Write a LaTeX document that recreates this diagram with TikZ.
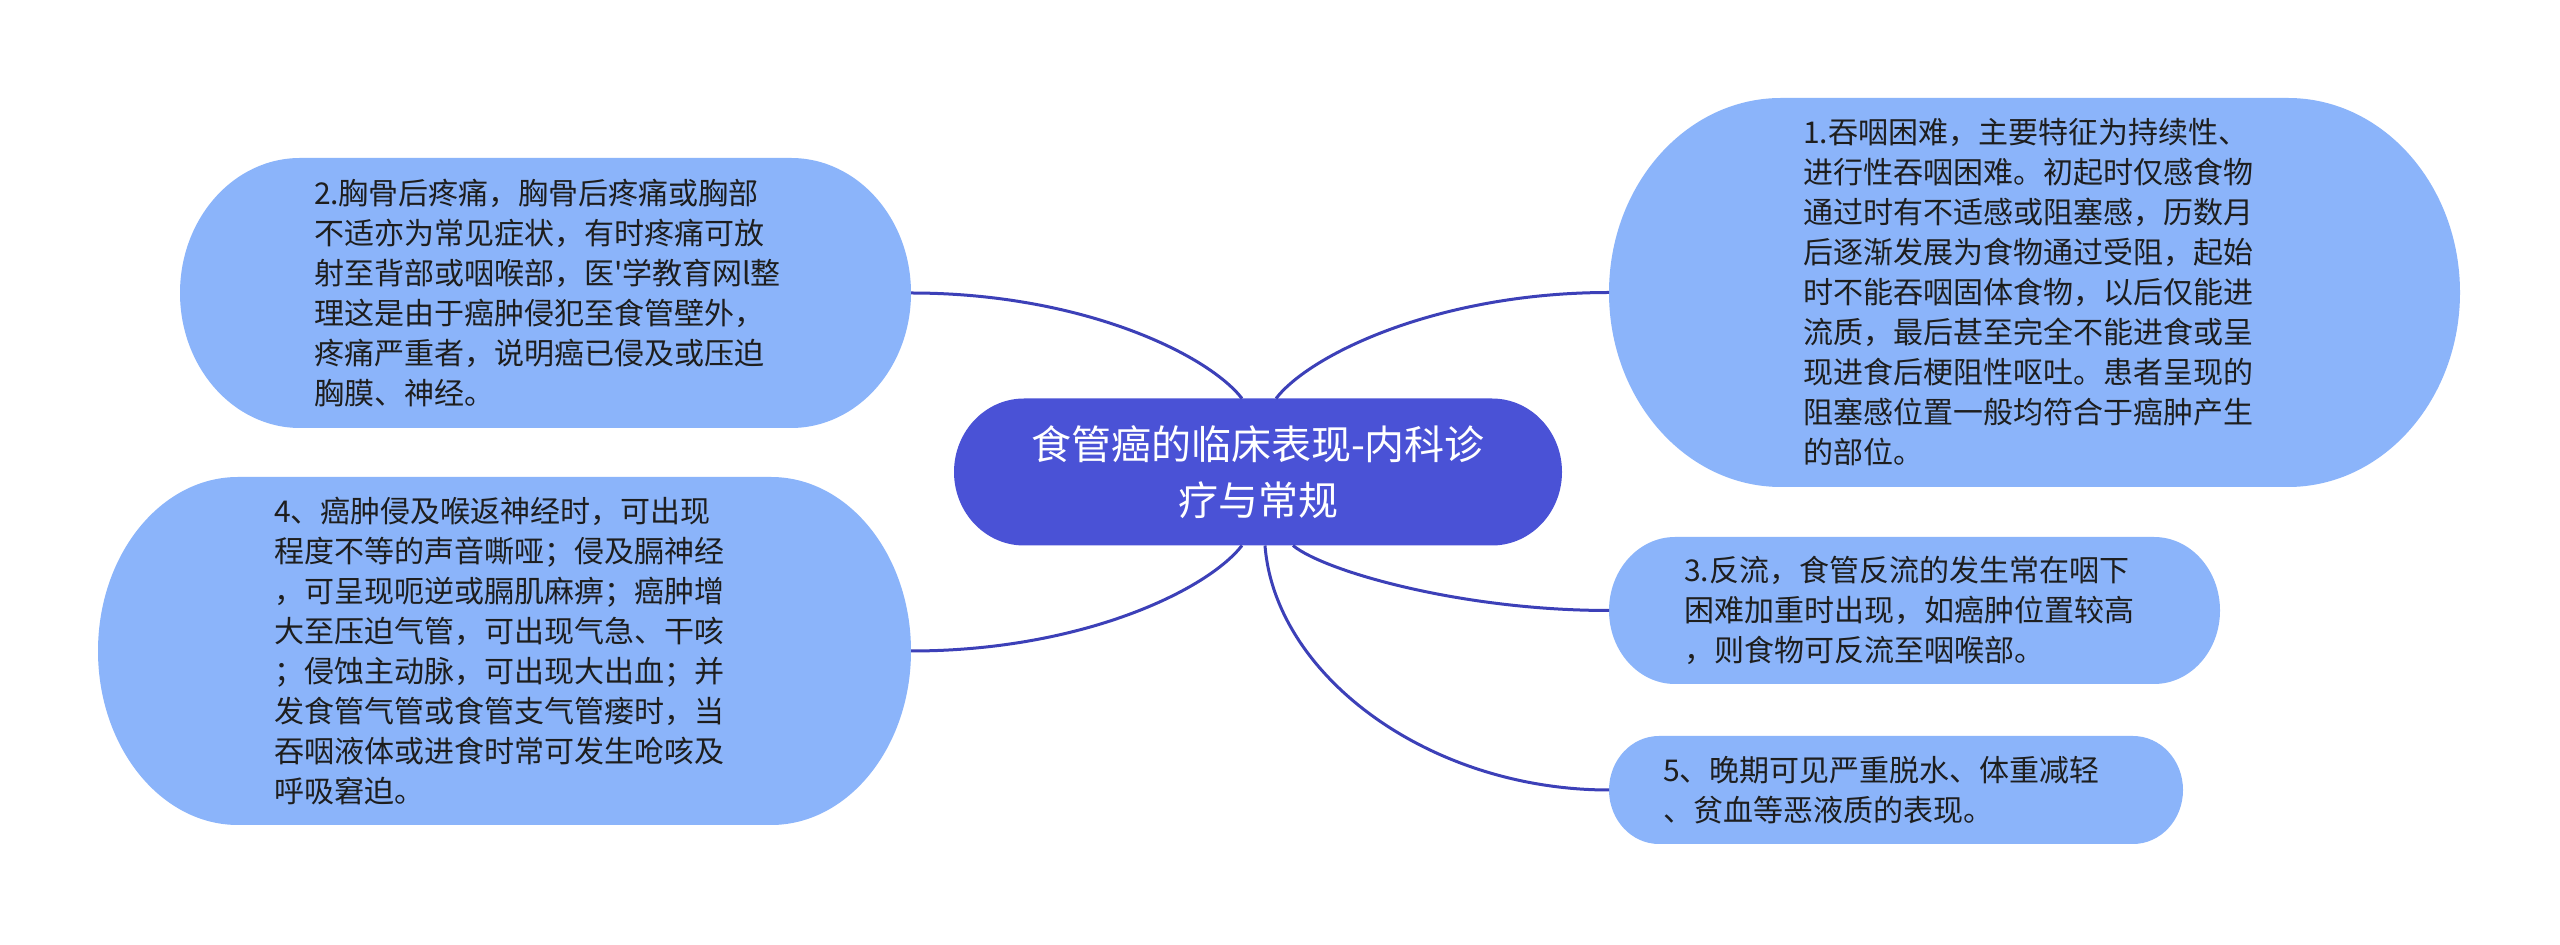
\documentclass[tikz,border=0pt]{standalone}
\usepackage{fontspec}
\newfontfamily\cjk{Noto Sans CJK SC}
\usetikzlibrary{backgrounds}
\definecolor{bubfill}{HTML}{8BB4FA}
\definecolor{mainfill}{HTML}{4A52D6}
\definecolor{linkc}{HTML}{3C40B8}
\definecolor{txtc}{HTML}{1E1E1E}
\newcommand\bubbleshape[4]{%
  \fill[#4] ([xshift=#2]#1.north west) -- ([xshift=-#2]#1.north east)
    arc[start angle=90,end angle=0,x radius=#2,y radius=#3]
    -- ([yshift=#3]#1.south east)
    arc[start angle=0,end angle=-90,x radius=#2,y radius=#3]
    -- ([xshift=#2]#1.south west)
    arc[start angle=-90,end angle=-180,x radius=#2,y radius=#3]
    -- ([yshift=-#3]#1.north west)
    arc[start angle=180,end angle=90,x radius=#2,y radius=#3] -- cycle;}
\tikzset{
  subnode/.style={shape=rectangle, inner ysep=0pt, outer sep=0pt, align=left,
    text=txtc, font=\cjk\fontsize{15pt}{20pt}\selectfont},
  mainnode/.style={shape=rectangle, inner sep=0pt, outer sep=0pt, align=center,
    text=white, font=\cjk\fontsize{20pt}{28pt}\selectfont,
    minimum width=304pt, minimum height=73.5pt},
  link/.style={draw=linkc, line width=1.5pt}
}
\begin{document}
\begin{tikzpicture}[x=0.5pt,y=-0.5pt]
\useasboundingbox (0,0) rectangle (2560,945);

\node[mainnode] (c) at (1258,472) {食管癌的临床表现-内科诊\\疗与常规};

\node[subnode, inner xsep=67pt, text width=231.5pt, minimum height=135pt] (n2) at (545.5,293)
 {2.胸骨后疼痛，胸骨后疼痛或胸部\\不适亦为常见症状，有时疼痛可放\\射至背部或咽喉部，医'学教育网l整\\理这是由于癌肿侵犯至食管壁外，\\疼痛严重者，说明癌已侵及或压迫\\胸膜、神经。};

\node[subnode, inner xsep=88pt, text width=230.5pt, minimum height=174pt] (n4) at (504.5,651)
 {4、癌肿侵及喉返神经时，可出现\\程度不等的声音嘶哑；侵及膈神经\\，可呈现呃逆或膈肌麻痹；癌肿增\\大至压迫气管，可出现气急、干咳\\；侵蚀主动脉，可出现大出血；并\\发食管气管或食管支气管瘘时，当\\吞咽液体或进食时常可发生呛咳及\\呼吸窘迫。};

\node[subnode, inner xsep=97pt, text width=231.5pt, minimum height=194.5pt] (n1) at (2034.5,292.5)
 {1.吞咽困难，主要特征为持续性、\\进行性吞咽困难。初起时仅感食物\\通过时有不适感或阻塞感，历数月\\后逐渐发展为食物通过受阻，起始\\时不能吞咽固体食物，以后仅能进\\流质，最后甚至完全不能进食或呈\\现进食后梗阻性呕吐。患者呈现的\\阻塞感位置一般均符合于癌肿产生\\的部位。};

\node[subnode, inner xsep=37.5pt, text width=230.5pt, minimum height=73.5pt] (n3) at (1914.5,610.5)
 {3.反流，食管反流的发生常在咽下\\困难加重时出现，如癌肿位置较高\\，则食物可反流至咽喉部。};

\node[subnode, inner xsep=27pt, text width=233pt, minimum height=54pt] (n5) at (1896,790)
 {5、晚期可见严重脱水、体重减轻\\、贫血等恶液质的表现。};

\begin{scope}[on background layer]
  \fill[white] (0,0) rectangle (2560,945);
  \bubbleshape{c}{35pt}{36.75pt}{mainfill}
  \bubbleshape{n2}{60pt}{67.5pt}{bubfill}
  \bubbleshape{n4}{70pt}{87pt}{bubfill}
  \bubbleshape{n1}{86pt}{97.25pt}{bubfill}
  \bubbleshape{n3}{33pt}{36.75pt}{bubfill}
  \bubbleshape{n5}{25pt}{27pt}{bubfill}
  \draw[link] (n2.east) .. controls +(84.5pt,0pt) and +(-17.5pt,22.5pt) .. ([xshift=-8pt]c.north);
  \draw[link] (n1.west) .. controls +(-84.5pt,0pt) and +(17.5pt,22.5pt) .. ([xshift=9pt]c.north);
  \draw[link] (n4.east) .. controls +(85pt,0pt) and +(-17.5pt,-22.5pt) .. ([xshift=-8pt]c.south);
  \draw[link] (n3.west) .. controls +(-75pt,0pt) and +(15pt,-12.5pt) .. ([xshift=17.5pt]c.south);
  \draw[link] (n5.west) .. controls +(-90pt,0pt) and +(5pt,-65pt) .. ([xshift=3.5pt]c.south);
\end{scope}
\end{tikzpicture}
\end{document}
